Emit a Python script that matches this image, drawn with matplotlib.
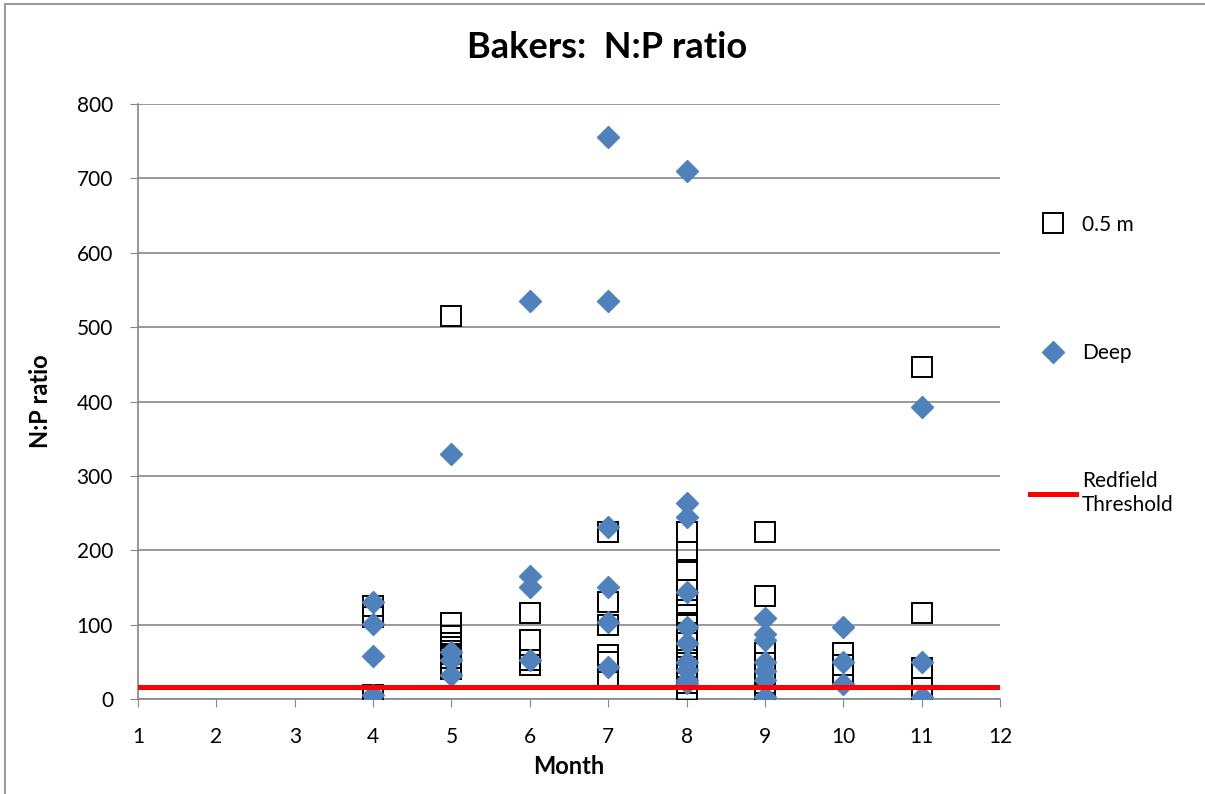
import matplotlib
matplotlib.use('Agg')
import matplotlib.pyplot as plt
from matplotlib.patches import Rectangle

plt.rcParams['font.family'] = ['Lato', 'DejaVu Sans']

# donnees
surface_month = [4, 4, 4,
                 5, 5, 5, 5, 5, 5, 5, 5, 5, 5,
                 6, 6, 6, 6,
                 7, 7, 7, 7, 7, 7,
                 8, 8, 8, 8, 8, 8, 8, 8, 8, 8, 8, 8, 8, 8, 8,
                 9, 9, 9, 9, 9, 9, 9,
                 10, 10, 10,
                 11, 11, 11, 11, 11]
surface_ratio = [125, 110, 5,
                 515, 102, 85, 75, 70, 65, 60, 55, 45, 40,
                 115, 79, 52, 46,
                 225, 130, 100, 59, 50, 30,
                 225, 198, 173, 146, 126, 113, 102, 89, 75, 62, 52, 43, 32, 21, 12,
                 225, 138, 62, 48, 35, 22, 5,
                 62, 46, 35,
                 447, 115, 42, 15, 3]

deep_month = [4, 4, 4, 4,
              5, 5, 5, 5,
              6, 6, 6, 6,
              7, 7, 7, 7, 7, 7,
              8, 8, 8, 8, 8, 8, 8, 8, 8, 8,
              9, 9, 9, 9, 9, 9, 9,
              10, 10, 10,
              11, 11, 11]
deep_ratio = [131, 101, 58, 5,
              330, 63, 52, 32,
              535, 165, 150, 52,
              755, 535, 231, 150, 104, 43,
              710, 263, 245, 144, 97, 75, 50, 39, 26, 22,
              109, 88, 80, 50, 37, 26, 3,
              97, 50, 20,
              393, 50, 3]

redfield_x = [1, 12]
redfield_y = [16, 16]

months = list(range(1, 13))
y_ticks = list(range(0, 801, 100))

fig = plt.figure(figsize=(12.05, 7.94), dpi=100)
ax = fig.add_axes([138 / 1205, 1 - 699 / 794, 862 / 1205, 595 / 794])

ax.plot(surface_month, surface_ratio, linestyle='none', marker='s', markersize=14,
        markerfacecolor='none', markeredgecolor='black', markeredgewidth=1.4, label='0.5 m', zorder=3)
ax.plot(deep_month, deep_ratio, linestyle='none', marker='D', markersize=11,
        color='#4F81BD', label='Deep', zorder=4)
ax.plot(redfield_x, redfield_y, color='#FF0000', linewidth=3.6, label='Redfield\nThreshold', zorder=5)

ax.set_xlim(1, 12)
ax.set_ylim(0, 800)
ax.set_xticks(months)
ax.set_yticks(y_ticks)
ax.tick_params(axis='both', labelsize=15, length=6, color='#868686', direction='out')
ax.tick_params(axis='x', pad=14)
ax.tick_params(axis='y', pad=12)
ax.grid(axis='y', color='#868686', linewidth=1.2)
ax.set_axisbelow(True)
for s in ['top', 'right']:
    ax.spines[s].set_visible(False)
for s in ['left', 'bottom']:
    ax.spines[s].set_color('#868686')
    ax.spines[s].set_linewidth(1.2)

# titre centre sur toute la zone du graphique
fig.text(607 / 1205, 1 - 47 / 794, 'Bakers:  N:P ratio', fontsize=26, fontweight='bold',
         ha='center', va='center')
ax.set_xlabel('Month', fontsize=17, fontweight='bold', labelpad=6)
ax.set_ylabel('N:P ratio', fontsize=17, fontweight='bold', labelpad=18)

leg = ax.legend(loc='upper left', bbox_to_anchor=(1011 / 1205, 1 - 196 / 794),
                bbox_transform=fig.transFigure, frameon=False, fontsize=15,
                labelspacing=5.2, handlelength=2.2, handletextpad=0.3)

# cadre du graphique
fig.add_artist(Rectangle((5 / 1205, -0.1), 1.2, 1.1 - 4 / 794, transform=fig.transFigure,
                         fill=False, edgecolor='#9a9a9a', linewidth=1.5))

fig.savefig('out.png', dpi=100)
